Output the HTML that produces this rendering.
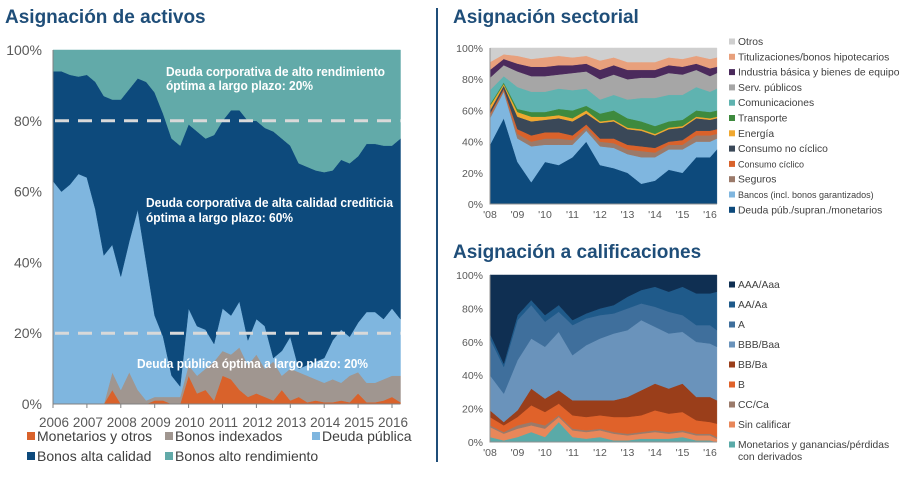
<!DOCTYPE html>
<html><head><meta charset="utf-8">
<style>
body{margin:0;background:#fff;width:904px;height:479px;overflow:hidden;font-family:"Liberation Sans",Arial,sans-serif;}
svg{position:absolute;left:0;top:0}
</style></head>
<body>
<svg id="s" width="904" height="479" xmlns="http://www.w3.org/2000/svg">
<text x="5" y="23" font-size="19" font-weight="bold" fill="#1f4e79">Asignación de activos</text>
<text x="453" y="23" font-size="19" font-weight="bold" fill="#1f4e79">Asignación sectorial</text>
<text x="453" y="258" font-size="19" font-weight="bold" fill="#1f4e79">Asignación a calificaciones</text>
<line x1="437" y1="8" x2="437" y2="462" stroke="#1f4e79" stroke-width="2"/>
<g id="main"></g><g id="sect"></g><g id="rate"></g>
</svg>
<script>
// ---- Main chart data ----
const mainDates=[2006,2006.25,2006.5,2006.75,2007,2007.25,2007.5,2007.75,2008,2008.25,2008.5,2008.75,2009,2009.25,2009.5,2009.75,2010,2010.25,2010.5,2010.75,2011,2011.25,2011.5,2011.75,2012,2012.25,2012.5,2012.75,2013,2013.25,2013.5,2013.75,2014,2014.25,2014.5,2014.75,2015,2015.25,2015.5,2015.75,2016,2016.25];
const mainMoney=[0,0,0,0,0,0,0,4,0,0,0,0,1,1,0,0,8,3,4,1,8,7,4,2,3,2,1,4,1,2,0.5,1,0.5,0.5,1,0.5,3,0.5,0.5,1,2,0.5];
const mainIndexed=[0,0,0,0,0,0,0,5,4,9,4,1,1,1,2,2,3,5,6,11,7,7,12,9,11,8,11,4,9,7,7.5,6,5.5,6.5,5,7.5,6,5.5,5.5,6,6,7.5];
const mainGov=[63,60,62,65,64,55,42,36,32,37,51,39,23,17,6,3,16,14,11,5,12,11,13,7,10,12,1,7,9,1,3,5,7,11,15,11,14,20,20,17,19,16];
const mainIG=[31,34,31,27.5,29,36,45,41,50,43,37,51,63,63,67,68,52,55,54,59,53,58,54,62,56,56,64,60,54,58,56,54,52.5,48,48,49,47,47.5,47.5,49,46,51];
const mainHY=[6,6,7,7.5,7,9,13,14,14,11,8,9,12,18,25,27,21,23,25,24,20,17,17,20,20,22,23,25,27,32,33,34,34.5,34,31,32,30,26.5,26.5,27,27,25];
const mainYears=[2006,2007,2008,2009,2010,2011,2012,2013,2014,2015,2016];
const mainYTicks=[0,20,40,60,80,100];
const mainTargets=[20,80];
// ---- Sector chart data ----
const secDates=[2008,2008.5,2009,2009.5,2010,2010.5,2011,2011.5,2012,2012.5,2013,2013.5,2014,2014.5,2015,2015.5,2016,2016.25];
const secSov=[38,55,27,14,27,25,30,40,25,23,20,13,15,22,20,30,30,35];
const secBanks=[17,17,15,23,11,13,8,7,12,13,12,17,15,13,15,10,10,7];
const secIns=[2,1,3,3,4,4,3,2,3,3,3,4,3,3,3,4,4,3];
const secCyc=[1,1,3,4,4,4,3,2,2,3,3,3,3,2,3,3,3,3];
const secNonCyc=[2,2,8,9,8,9,9,7,10,11,10,10,8,8,8,8,7,7];
const secEnergy=[3,1,3,3,2,2,2,2,1,1,1,1,1,1,1,1,1,1];
const secTrans=[1,1,2,3,3,4,5,3,5,6,6,5,5,4,4,4,4,4];
const secComm=[9,4,14,13,13,13,13,11,9,10,12,15,18,17,16,15,13,14];
const secUtil=[8,7,10,10,10,9,11,11,13,13,13,13,13,14,13,11,10,10];
const secInd=[5,4,5,6,6,6,5,5,6,6,6,5,5,5,5,4,5,4];
const secSecur=[5,3,5,5,6,6,5,5,6,5,5,5,5,5,5,5,6,6];
const secOther=[9,4,5,7,6,5,6,5,8,6,9,9,9,6,7,5,7,6];
const secLabels=["Deuda púb./supran./monetarios","Bancos (incl. bonos garantizados)","Seguros","Consumo cíclico","Consumo no cíclico","Energía","Transporte","Comunicaciones","Serv. públicos","Industria básica y bienes de equipo","Titulizaciones/bonos hipotecarios","Otros"];
const shortYears=["'08","'09","'10","'11","'12","'13","'14","'15","'16"];
const shortYearVals=[2008,2009,2010,2011,2012,2013,2014,2015,2016];
// ---- Ratings chart data ----
const rDates=secDates;
const rMon=[3,1,3,6,3,12,3,2,3,1,1,2,2,2,3,1,1,0];
const rUnr=[6,4,5,4,5,3,4,4,4,4,3,3,4,3,3,3,3,2];
const rCC=[1,1,2,2,2,1,1,1,1,1,1,1,1,1,1,1,1,1];
const rB=[5,4,5,10,8,7,8,8,8,9,10,10,12,11,11,8,7,8];
const rBB=[4,2,4,10,8,8,9,10,9,10,12,15,16,15,17,14,15,14];
const rBBB=[21,17,30,30,31,35,27,33,37,40,40,42,34,33,31,33,32,32];
const rA=[22,16,24,20,15,12,18,16,14,12,13,10,12,13,10,10,11,10];
const rAA=[3,2,3,3,4,4,3,3,4,5,7,8,12,12,17,19,19,23];
const rAAA=[35,53,24,15,24,18,27,23,20,18,13,9,7,10,7,11,11,10];
const rLabels=["Monetarios y ganancias/pérdidas","Sin calificar","CC/Ca","B","BB/Ba","BBB/Baa","A","AA/Aa","AAA/Aaa"];

const NS="http://www.w3.org/2000/svg";
function mk(parent,tag,attrs,text){const e=document.createElementNS(NS,tag);for(const k in attrs)e.setAttribute(k,attrs[k]);if(text!==undefined)e.textContent=text;parent.appendChild(e);return e;}

function stack(g,dates,series,colors,xs,ys,names){
  const cum=dates.map(()=>0);
  series.forEach((s,si)=>{
    const lo=cum.slice();
    s.forEach((v,i)=>cum[i]+=v);
    let pts=dates.map((d,i)=>xs(d)+','+ys(Math.min(cum[i],100)));
    for(let i=dates.length-1;i>=0;i--)pts.push(xs(dates[i])+','+ys(Math.min(lo[i],100)));
    const p=mk(g,'polygon',{points:pts.join(' '),fill:colors[si],stroke:colors[si],'stroke-width':0.5});
    
    
  });
}

// ---- Main chart ----
(function(){
  const g=document.getElementById('main');
  const x0=53,xpy=33.9,y0=404,y1=50;
  const xs=d=>x0+(d-2006)*xpy;
  const ys=v=>y0-(v/100)*(y0-y1);
  stack(g,mainDates,[mainMoney,mainIndexed,mainGov,mainIG,mainHY],["#d9622b","#a09690","#7fb6df","#0d4a7c","#62aaa9"],xs,ys,["money","indexed-bonds","government-debt","investment-grade","high-yield"]);
  mainTargets.forEach(t=>{const l=mk(g,'line',{x1:x0+2,x2:xs(2016.25),y1:ys(t),y2:ys(t),stroke:'#d9d9d9','stroke-width':3,'stroke-dasharray':'14 9'});
    
    });
  const ax=mk(g,'path',{d:`M${x0} ${y1}V${y0}H${xs(2016.25)}`,stroke:'#808080',fill:'none','stroke-width':1});
  
  mainYTicks.forEach(v=>{const t=mk(g,'text',{x:42,y:ys(v)+5,'text-anchor':'end','font-size':14,fill:'#595959'},v+'%');
    });
  mainYears.forEach(y=>{const t=mk(g,'text',{x:xs(y)+1,y:427,'text-anchor':'middle','font-size':13.5,fill:'#595959'},String(y));
    
    mk(g,'line',{x1:xs(y),x2:xs(y),y1:y0,y2:y0+4,stroke:'#808080'});});
  const ann=[[166,76,"Deuda corporativa de alto rendimiento",219],[166,90,"óptima a largo plazo: 20%",147],[146,207,"Deuda corporativa de alta calidad crediticia",247],[146,222,"óptima a largo plazo: 60%",147],[137,368,"Deuda pública óptima a largo plazo: 20%",231]];
  ann.forEach((a,i)=>{const t=mk(g,'text',{x:a[0],y:a[1],'font-size':12.5,'font-weight':'bold',fill:'#fff',textLength:a[3],lengthAdjust:'spacingAndGlyphs'},a[2]);
    });
  const leg=[[27,441,"#d9622b","Monetarios y otros"],[165,441,"#a09690","Bonos indexados"],[312,441,"#7fb6df","Deuda pública"],[27,461,"#0d4a7c","Bonos alta calidad"],[165,461,"#62aaa9","Bonos alto rendimiento"]];
  leg.forEach(l=>{const r=mk(g,'rect',{x:l[0],y:l[1]-9,width:8,height:8,fill:l[2]});
    
    const t=mk(g,'text',{x:l[0]+10,y:l[1],'font-size':14,fill:'#404040'},l[3]);
    });
})();

function small(gid,dates,series,colors,labels,y1,y0,legY,legStep,names){
  const g=document.getElementById(gid);
  const x0=490,xpy=27.5;
  const xs=d=>x0+(d-2008)*xpy;
  const ys=v=>y0-(v/100)*(y0-y1);
  stack(g,dates,series,colors,xs,ys,names);
  const ax=mk(g,'path',{d:`M${x0} ${y1}V${y0}H${xs(2016.25)}`,stroke:'#909090',fill:'none'});
  
  [0,20,40,60,80,100].forEach(v=>{const t=mk(g,'text',{x:483,y:ys(v)+4,'text-anchor':'end','font-size':10.5,fill:'#595959'},v+'%');
    });
  shortYearVals.forEach((y,i)=>{const t=mk(g,'text',{x:xs(y),y:y0+14,'text-anchor':'middle','font-size':10.5,fill:'#595959'},shortYears[i]);
    });
  for(let i=0;i<labels.length;i++){
    const j=labels.length-1-i; const y=legY+i*legStep;
    const r=mk(g,'rect',{x:729,y:y-6.5,width:6,height:6,fill:colors[j]});
    
    const sm=(labels[j].startsWith('Bancos')||labels[j]==='Consumo cíclico');
    const t=mk(g,'text',{x:738,y:y,'font-size':sm?9:10.3,fill:'#404040'},labels[j]);
    
  }
  return g;
}
small('sect',secDates,[secSov,secBanks,secIns,secCyc,secNonCyc,secEnergy,secTrans,secComm,secUtil,secInd,secSecur,secOther],
 ["#0d4a7c","#7fb6df","#9b7a6a","#d9622b","#3a4858","#f0a830","#3e8a3e","#5fb3b0","#a6a6a6","#4b2a5c","#e8a07c","#cfcfcf"],secLabels,48,204,45,15.3,
 ["sovereign","banks","insurance","cyclical","non-cyclical","energy","transport","communications","utilities","industrials","securitized","other"]);
const rg=small('rate',rDates,[rMon,rUnr,rCC,rB,rBB,rBBB,rA,rAA,rAAA],
 ["#5aaaa8","#e8875a","#9a7a6a","#e0622a","#9a3e1a","#6a93bb","#3f6f9c","#1f5a8a","#0f2f52"],rLabels,275,442,288,20,
 ["monetary","unrated","cc","b","bb","bbb","a","aa","aaa"]);
const ext=mk(rg,'text',{x:738,y:460,'font-size':10.3,fill:'#404040'},"con derivados");


</script>
</body></html>
